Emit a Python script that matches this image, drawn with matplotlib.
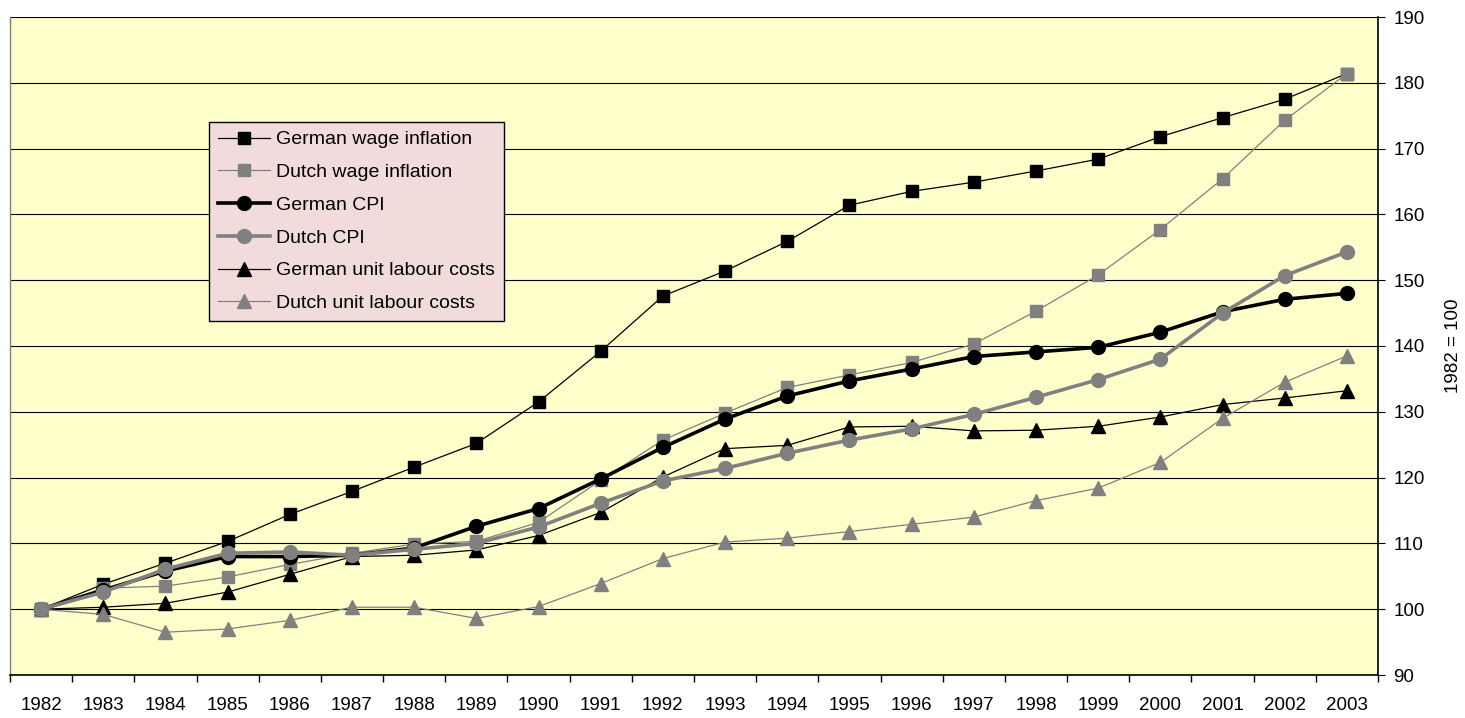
import matplotlib
matplotlib.use("Agg")
import matplotlib.pyplot as plt
import numpy as np

plt.rcParams['font.family'] = ['Liberation Sans', 'DejaVu Sans']

years = list(range(1982, 2004))

german_wage = [100, 103.8, 107.0, 110.3, 114.4, 117.9, 121.6, 125.2, 131.5, 139.2, 147.6,
               151.4, 155.9, 161.4, 163.5, 164.9, 166.6, 168.4, 171.8, 174.7, 177.5, 181.4]
dutch_wage = [100, 103.2, 103.5, 104.9, 106.8, 108.5, 109.9, 110.3, 113.2, 119.6, 125.7,
              129.8, 133.7, 135.6, 137.5, 140.3, 145.3, 150.8, 157.7, 165.4, 174.3, 181.4]
german_cpi = [100, 102.9, 105.8, 108.0, 108.0, 108.2, 109.3, 112.6, 115.3, 119.8, 124.6,
              128.9, 132.4, 134.7, 136.5, 138.4, 139.1, 139.8, 142.1, 145.2, 147.1, 148.0]
dutch_cpi = [100, 102.6, 106.1, 108.5, 108.7, 108.2, 109.1, 110.0, 112.5, 116.1, 119.5,
             121.4, 123.7, 125.7, 127.4, 129.6, 132.2, 134.9, 138.0, 145.0, 150.7, 154.3]
german_ulc = [100, 100.3, 100.9, 102.6, 105.3, 108.0, 108.2, 109.0, 111.2, 114.7, 120.1,
              124.4, 124.9, 127.7, 127.8, 127.1, 127.2, 127.8, 129.2, 131.1, 132.1, 133.2]
dutch_ulc = [100, 99.2, 96.5, 97.0, 98.3, 100.3, 100.3, 98.6, 100.4, 103.9, 107.7,
             110.2, 110.8, 111.8, 112.9, 114.0, 116.5, 118.4, 122.3, 129.0, 134.5, 138.5]

GREY = "#808080"

fig = plt.figure(figsize=(14.65, 7.18), dpi=100)
ax = fig.add_axes([10 / 1465, 43 / 718, 1368 / 1465, 658 / 718])
ax.set_facecolor("#FFFFCC")

x = np.arange(len(years))
ax.plot(x, german_wage, color="black", lw=0.9, marker="s", ms=9, label="German wage inflation", zorder=3)
ax.plot(x, dutch_wage, color=GREY, lw=0.9, marker="s", ms=9, label="Dutch wage inflation", zorder=3)
ax.plot(x, german_cpi, color="black", lw=2.6, marker="o", ms=10, label="German CPI", zorder=4)
ax.plot(x, dutch_cpi, color=GREY, lw=2.6, marker="o", ms=10, label="Dutch CPI", zorder=4)
ax.plot(x, german_ulc, color="black", lw=0.9, marker="^", ms=10, label="German unit labour costs", zorder=3)
ax.plot(x, dutch_ulc, color=GREY, lw=0.9, marker="^", ms=10, label="Dutch unit labour costs", zorder=3)

ax.set_xlim(-0.5, len(years) - 0.5)
ax.set_ylim(90, 190)
ax.set_yticks(range(90, 191, 10))
ax.yaxis.tick_right()
ax.yaxis.set_label_position("right")
ax.set_ylabel("1982 = 100", fontsize=13.5, labelpad=15)
ax.grid(axis="y", color="black", lw=0.8, zorder=0)
ax.set_axisbelow(True)

# category labels at centres, tick marks at boundaries
ax.set_xticks(x)
ax.set_xticklabels([str(y) for y in years], fontsize=13.5)
ax.tick_params(axis="x", which="major", length=0, pad=16)
ax.set_xticks(np.arange(-0.5, len(years), 1), minor=True)
ax.tick_params(axis="x", which="minor", direction="out", length=5, width=1)
ax.tick_params(axis="y", direction="out", length=5, labelsize=13.5, pad=6)

ax.spines["left"].set_color(GREY)
ax.spines["left"].set_linewidth(1)
ax.spines["top"].set_visible(False)
ax.spines["bottom"].set_linewidth(1.2)
ax.spines["right"].set_linewidth(1.2)

leg = ax.legend(loc="upper left", bbox_to_anchor=(199 / 1368, (675 - 122) / 658),
                fontsize=14, frameon=True, fancybox=False, facecolor="#F2DCDB",
                edgecolor="black", framealpha=1, handlelength=2.7, numpoints=1,
                labelspacing=0.78, borderpad=0.45, borderaxespad=0, handletextpad=0.3)
leg.get_frame().set_linewidth(1)

fig.savefig("out.png", dpi=100)
